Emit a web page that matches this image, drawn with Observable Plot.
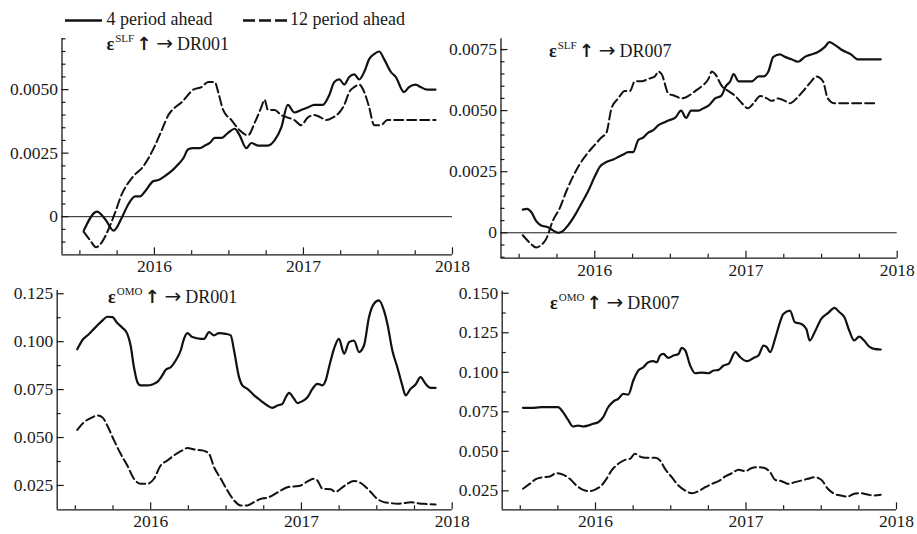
<!DOCTYPE html>
<html>
<head>
<meta charset="utf-8">
<script src="https://cdn.jsdelivr.net/npm/d3@7"></script>
<script src="https://cdn.jsdelivr.net/npm/@observablehq/plot@0.6"></script>
<style>
  body { margin: 0; background: #fff; }
  #chart { position: relative; width: 917px; height: 534px; font-family: "Liberation Serif", "Times New Roman", serif; color: #1a1a1a; }
  #chart svg { position: absolute; background: transparent; overflow: visible; }
</style>
</head>
<body>
<div id="chart"></div>
<script>
// Impulse responses of the interbank rates (DR001, DR007) to SLF and OMO shocks,
// at two horizons. Each series is a list of [decimal year, response] pairs.
const seriesNames = ["4 period ahead", "12 period ahead"];
const yearTicks = [2016, 2017, 2018];
const quarterTicks = [2015.5, 2015.75, 2016.25, 2016.5, 2016.75, 2017.25, 2017.5, 2017.75];

const slfDr001H4 = [[2015.526,-0.00055],[2015.615,0.0002],[2015.670,-0.0001],[2015.726,-0.00055],[2015.782,-0.00003],[2015.826,0.0005],[2015.871,0.0008],[2015.904,0.0008],[2015.938,0.001],[2015.993,0.0014],[2016.027,0.00144],[2016.071,0.0016],[2016.116,0.0018],[2016.160,0.00206],[2016.194,0.0023],[2016.227,0.00265],[2016.261,0.0027],[2016.305,0.0027],[2016.339,0.0028],[2016.372,0.0029],[2016.405,0.0031],[2016.450,0.0031],[2016.494,0.0033],[2016.539,0.00346],[2016.572,0.0032],[2016.617,0.0027],[2016.650,0.0029],[2016.695,0.0028],[2016.762,0.0028],[2016.806,0.003],[2016.851,0.0035],[2016.895,0.0044],[2016.940,0.0041],[2016.984,0.0042],[2017.029,0.0043],[2017.073,0.0044],[2017.129,0.0044],[2017.174,0.0048],[2017.207,0.0053],[2017.241,0.0054],[2017.274,0.0052],[2017.307,0.0055],[2017.341,0.0056],[2017.374,0.0054],[2017.408,0.0057],[2017.441,0.0062],[2017.474,0.0064],[2017.508,0.0065],[2017.541,0.0062],[2017.586,0.0057],[2017.619,0.0055],[2017.675,0.0049],[2017.708,0.0051],[2017.753,0.0052],[2017.786,0.0051],[2017.831,0.005],[2017.886,0.005]];
const slfDr001H12 = [[2015.526,-0.0006],[2015.570,-0.00094],[2015.608,-0.0012],[2015.648,-0.001],[2015.693,-0.00048],[2015.737,0.00017],[2015.782,0.0009],[2015.826,0.00134],[2015.871,0.00167],[2015.915,0.0019],[2015.960,0.0023],[2016.004,0.0028],[2016.049,0.0034],[2016.094,0.004],[2016.138,0.0043],[2016.183,0.0045],[2016.227,0.0048],[2016.261,0.005],[2016.316,0.0051],[2016.361,0.0053],[2016.405,0.0053],[2016.428,0.0049],[2016.461,0.0042],[2016.517,0.0038],[2016.572,0.0034],[2016.628,0.0032],[2016.673,0.0037],[2016.717,0.0043],[2016.739,0.0046],[2016.762,0.0042],[2016.806,0.0042],[2016.851,0.004],[2016.895,0.0039],[2016.940,0.0038],[2016.984,0.0036],[2017.029,0.0039],[2017.073,0.004],[2017.118,0.0039],[2017.151,0.0038],[2017.196,0.0039],[2017.241,0.0041],[2017.274,0.0044],[2017.307,0.0049],[2017.341,0.0051],[2017.374,0.0052],[2017.408,0.0049],[2017.441,0.0043],[2017.474,0.0036],[2017.519,0.0036],[2017.563,0.0038],[2017.653,0.0038],[2017.742,0.0038],[2017.886,0.0038]];

const slfDr007H4 = [[2015.524,0.00095],[2015.553,0.00098],[2015.580,0.00085],[2015.613,0.00048],[2015.646,0.0003],[2015.690,0.00023],[2015.723,0.0001],[2015.757,0],[2015.779,0.00003],[2015.823,0.0003],[2015.867,0.0007],[2015.912,0.0012],[2015.956,0.0017],[2016.000,0.0023],[2016.033,0.0027],[2016.077,0.0029],[2016.122,0.003],[2016.155,0.0031],[2016.188,0.0032],[2016.221,0.0033],[2016.254,0.0033],[2016.288,0.0038],[2016.321,0.0039],[2016.354,0.0041],[2016.387,0.0042],[2016.420,0.0044],[2016.454,0.0045],[2016.487,0.0046],[2016.531,0.0047],[2016.571,0.005],[2016.604,0.0047],[2016.637,0.005],[2016.686,0.005],[2016.719,0.0051],[2016.752,0.0052],[2016.796,0.0055],[2016.836,0.0056],[2016.867,0.006],[2016.896,0.0062],[2016.918,0.0065],[2016.951,0.0062],[2016.996,0.0062],[2017.039,0.0062],[2017.083,0.0064],[2017.116,0.0064],[2017.148,0.0066],[2017.181,0.0072],[2017.225,0.0073],[2017.258,0.0072],[2017.301,0.0071],[2017.345,0.007],[2017.389,0.0072],[2017.432,0.0073],[2017.476,0.0074],[2017.520,0.0076],[2017.552,0.0078],[2017.585,0.0077],[2017.629,0.0075],[2017.694,0.0073],[2017.738,0.0071],[2017.782,0.0071],[2017.891,0.0071]];
const slfDr007H12 = [[2015.524,-0.0001],[2015.569,-0.0004],[2015.613,-0.0006],[2015.646,-0.0005],[2015.679,-0.00025],[2015.723,0.0005],[2015.768,0.001],[2015.812,0.0017],[2015.856,0.0023],[2015.900,0.0028],[2015.945,0.0032],[2016.000,0.0036],[2016.044,0.0039],[2016.077,0.0041],[2016.111,0.0051],[2016.155,0.0055],[2016.199,0.0058],[2016.232,0.0058],[2016.265,0.0062],[2016.310,0.0062],[2016.354,0.0063],[2016.398,0.0064],[2016.420,0.0066],[2016.442,0.0065],[2016.487,0.0057],[2016.531,0.0056],[2016.575,0.0055],[2016.619,0.0056],[2016.664,0.0058],[2016.708,0.006],[2016.752,0.0063],[2016.774,0.0066],[2016.796,0.0065],[2016.841,0.006],[2016.885,0.0058],[2016.929,0.0056],[2016.973,0.0053],[2017.013,0.0051],[2017.050,0.0053],[2017.094,0.0056],[2017.138,0.0055],[2017.170,0.0054],[2017.214,0.0055],[2017.258,0.0054],[2017.290,0.0053],[2017.334,0.0055],[2017.378,0.0058],[2017.432,0.0062],[2017.465,0.0064],[2017.509,0.0062],[2017.541,0.0055],[2017.585,0.0053],[2017.629,0.0053],[2017.694,0.0053],[2017.760,0.0053],[2017.869,0.0053]];

const omoDr001H4 = [[2015.513,0.096],[2015.546,0.1007],[2015.591,0.104],[2015.635,0.1076],[2015.679,0.111],[2015.712,0.113],[2015.746,0.1128],[2015.779,0.1097],[2015.812,0.1073],[2015.845,0.1041],[2015.867,0.098],[2015.889,0.0867],[2015.912,0.0789],[2015.934,0.0772],[2015.978,0.0772],[2016.011,0.0777],[2016.044,0.079],[2016.077,0.0824],[2016.100,0.0853],[2016.133,0.0867],[2016.166,0.0902],[2016.199,0.0954],[2016.221,0.1015],[2016.243,0.1045],[2016.277,0.1024],[2016.332,0.1015],[2016.354,0.1015],[2016.387,0.105],[2016.420,0.1033],[2016.454,0.1045],[2016.498,0.1041],[2016.531,0.1033],[2016.553,0.0954],[2016.586,0.0815],[2016.608,0.0772],[2016.642,0.0754],[2016.686,0.072],[2016.730,0.0693],[2016.774,0.0667],[2016.808,0.0655],[2016.841,0.0667],[2016.874,0.0676],[2016.896,0.071],[2016.918,0.0733],[2016.951,0.0702],[2016.973,0.068],[2017.007,0.069],[2017.040,0.071],[2017.073,0.0754],[2017.106,0.078],[2017.139,0.0772],[2017.161,0.0798],[2017.183,0.0867],[2017.216,0.0963],[2017.249,0.1015],[2017.283,0.0937],[2017.316,0.0998],[2017.349,0.1006],[2017.382,0.0946],[2017.415,0.098],[2017.448,0.1128],[2017.481,0.1198],[2017.514,0.1215],[2017.547,0.1163],[2017.570,0.1094],[2017.603,0.0954],[2017.636,0.0867],[2017.669,0.0772],[2017.691,0.072],[2017.724,0.0754],[2017.757,0.0777],[2017.790,0.0815],[2017.823,0.078],[2017.857,0.0759],[2017.890,0.0759]];
const omoDr001H12 = [[2015.513,0.054],[2015.558,0.058],[2015.602,0.0601],[2015.646,0.0615],[2015.679,0.0606],[2015.712,0.0563],[2015.757,0.0485],[2015.801,0.0415],[2015.845,0.0354],[2015.889,0.0285],[2015.934,0.0259],[2015.978,0.0259],[2016.022,0.0285],[2016.066,0.0354],[2016.111,0.038],[2016.155,0.0407],[2016.210,0.0433],[2016.243,0.0445],[2016.299,0.0436],[2016.343,0.0433],[2016.387,0.0415],[2016.420,0.0346],[2016.465,0.0285],[2016.509,0.0224],[2016.553,0.0172],[2016.597,0.0146],[2016.642,0.0146],[2016.686,0.0163],[2016.730,0.018],[2016.774,0.0186],[2016.819,0.0203],[2016.863,0.0224],[2016.907,0.0241],[2016.951,0.0245],[2016.996,0.025],[2017.040,0.0271],[2017.084,0.0285],[2017.106,0.0276],[2017.139,0.0233],[2017.194,0.023],[2017.227,0.0216],[2017.260,0.0233],[2017.305,0.0259],[2017.349,0.0273],[2017.382,0.0267],[2017.415,0.025],[2017.459,0.0216],[2017.503,0.018],[2017.547,0.0163],[2017.592,0.0158],[2017.636,0.0154],[2017.680,0.0158],[2017.724,0.0163],[2017.768,0.0158],[2017.812,0.0154],[2017.890,0.0151]];

const omoDr007H4 = [[2015.518,0.0775],[2015.573,0.0775],[2015.640,0.0779],[2015.707,0.0779],[2015.751,0.0779],[2015.784,0.0748],[2015.818,0.0699],[2015.851,0.0657],[2015.884,0.0663],[2015.918,0.0657],[2015.951,0.0663],[2015.984,0.0674],[2016.018,0.0684],[2016.051,0.0716],[2016.084,0.0779],[2016.118,0.0815],[2016.151,0.0832],[2016.184,0.0863],[2016.218,0.0859],[2016.251,0.0948],[2016.284,0.1011],[2016.318,0.1032],[2016.351,0.1064],[2016.384,0.107],[2016.407,0.1064],[2016.429,0.1106],[2016.451,0.1116],[2016.484,0.1091],[2016.518,0.1106],[2016.551,0.1116],[2016.573,0.1154],[2016.596,0.1138],[2016.629,0.1043],[2016.662,0.0994],[2016.707,0.0998],[2016.751,0.0994],[2016.784,0.1011],[2016.818,0.1015],[2016.851,0.1043],[2016.884,0.1053],[2016.929,0.1127],[2016.962,0.1095],[2017.007,0.107],[2017.050,0.1091],[2017.083,0.1106],[2017.116,0.1169],[2017.138,0.1159],[2017.160,0.1127],[2017.193,0.1211],[2017.226,0.1317],[2017.248,0.1369],[2017.292,0.139],[2017.325,0.1317],[2017.368,0.1306],[2017.401,0.1274],[2017.423,0.1201],[2017.456,0.1253],[2017.500,0.1338],[2017.544,0.1374],[2017.588,0.1407],[2017.621,0.138],[2017.654,0.1348],[2017.686,0.1264],[2017.719,0.1201],[2017.752,0.1226],[2017.785,0.1201],[2017.818,0.1163],[2017.851,0.1148],[2017.895,0.1144]];
const omoDr007H12 = [[2015.518,0.0263],[2015.562,0.0294],[2015.607,0.0326],[2015.651,0.0336],[2015.696,0.0341],[2015.740,0.0362],[2015.784,0.0353],[2015.829,0.0326],[2015.873,0.0284],[2015.918,0.0256],[2015.962,0.0248],[2016.007,0.0263],[2016.040,0.0284],[2016.073,0.0326],[2016.107,0.0379],[2016.151,0.0421],[2016.196,0.0446],[2016.229,0.0452],[2016.262,0.0484],[2016.307,0.0463],[2016.351,0.0459],[2016.396,0.0459],[2016.429,0.0442],[2016.462,0.0389],[2016.507,0.0336],[2016.551,0.0284],[2016.596,0.0252],[2016.640,0.0235],[2016.684,0.0248],[2016.729,0.0273],[2016.773,0.0294],[2016.818,0.0311],[2016.862,0.0341],[2016.907,0.0362],[2016.951,0.0383],[2016.996,0.0374],[2017.039,0.0395],[2017.083,0.04],[2017.127,0.0393],[2017.160,0.0368],[2017.193,0.032],[2017.237,0.0311],[2017.281,0.0294],[2017.325,0.0305],[2017.368,0.0315],[2017.412,0.0326],[2017.456,0.0336],[2017.500,0.032],[2017.544,0.0263],[2017.588,0.0231],[2017.632,0.022],[2017.675,0.0214],[2017.719,0.0231],[2017.763,0.0235],[2017.807,0.0227],[2017.851,0.022],[2017.895,0.0225]];

const slfMajor = [0, 0.0025, 0.005];
const slfMajor007 = [0, 0.0025, 0.005, 0.0075];
const slfMinor = [-0.001, -0.0005, 0.0005, 0.001, 0.0015, 0.002, 0.003, 0.0035, 0.004, 0.0045, 0.0055, 0.006, 0.0065, 0.007, 0.0075];
const omoMajor = [0.025, 0.05, 0.075, 0.1, 0.125];
const omoMajor007 = [0.025, 0.05, 0.075, 0.1, 0.125, 0.15];
const omoMinor = [0.0375, 0.0625, 0.0875, 0.1125, 0.1375];

const ink = "#1a1a1a";
const font = "17.5px 'Liberation Serif', 'Times New Roman', serif";
const xStart = 2015.38;

function panel(o) {
  const innerW = o.width - o.ml - o.mr;
  const innerH = o.height - o.mt - o.mb;
  const inY = d => d >= o.yDomain[0] && d <= o.yDomain[1];
  const svg = Plot.plot({
    width: o.width, height: o.height,
    marginLeft: o.ml, marginRight: o.mr, marginTop: o.mt, marginBottom: o.mb,
    style: {font, color: ink, background: "transparent", overflow: "visible"},
    x: {type: "linear", domain: [xStart, 2018]},
    y: {domain: o.yDomain},
    marks: [
      o.zero ? Plot.ruleY([0], {stroke: ink, strokeWidth: 1}) : null,
      Plot.line(o.dashed, {x: d => d[0], y: d => d[1], stroke: "#111", strokeWidth: 2, strokeDasharray: "9,4", curve: "monotone-x"}),
      Plot.line(o.solid, {x: d => d[0], y: d => d[1], stroke: "#111", strokeWidth: 2.2, curve: "monotone-x"}),
      Plot.ruleX([xStart], {stroke: ink, strokeWidth: 1.3}),
      Plot.ruleY([o.yDomain[0]], {stroke: ink, strokeWidth: 1.3}),
      Plot.tickX(yearTicks, {x: d => d, insetTop: innerH - 7, stroke: ink, strokeWidth: 1.2}),
      Plot.tickX(quarterTicks, {x: d => d, insetTop: innerH - 4, stroke: ink, strokeWidth: 1.2}),
      Plot.tickY(o.yMajor, {y: d => d, insetRight: innerW - 7, stroke: ink, strokeWidth: 1.2}),
      Plot.tickY(o.yMinor.filter(inY), {y: d => d, insetRight: innerW - 4, stroke: ink, strokeWidth: 1.2}),
      Plot.axisX(yearTicks, {tickSize: 0, tickPadding: 5, tickFormat: d => `${d}`, fill: ink, label: null}),
      Plot.axisY(o.yMajor, {tickSize: 0, tickPadding: 4, tickFormat: o.fmt, fill: ink, label: null})
    ]
  });
  svg.style.left = o.left + "px";
  svg.style.top = o.top + "px";
  document.getElementById("chart").appendChild(svg);
}

const fmtSlf = d => d === 0 ? "0" : d.toFixed(4);
const fmtOmo = d => d.toFixed(3);

panel({left: 0, top: 28, width: 470, height: 256, ml: 61.5, mr: 18, mt: 10.3, mb: 29.7,
  yDomain: [-0.0015, 0.007], yMajor: slfMajor, yMinor: slfMinor, fmt: fmtSlf, zero: true,
  solid: slfDr001H4, dashed: slfDr001H12});
panel({left: 450, top: 28, width: 467, height: 256, ml: 50.5, mr: 20.3, mt: 10.3, mb: 26.3,
  yDomain: [-0.00104, 0.00794], yMajor: slfMajor007, yMinor: slfMinor, fmt: fmtSlf, zero: true,
  solid: slfDr007H4, dashed: slfDr007H12});
panel({left: 0, top: 280, width: 470, height: 254, ml: 56.7, mr: 18.3, mt: 10, mb: 24.7,
  yDomain: [0.0123, 0.1267], yMajor: omoMajor, yMinor: omoMinor, fmt: fmtOmo, zero: false,
  solid: omoDr001H4, dashed: omoDr001H12});
panel({left: 450, top: 280, width: 467, height: 254, ml: 51.7, mr: 21, mt: 10.7, mb: 24.7,
  yDomain: [0.013, 0.1513], yMajor: omoMajor007, yMinor: omoMinor, fmt: fmtOmo, zero: false,
  solid: omoDr007H4, dashed: omoDr007H12});

// Legend and panel titles on a shared overlay
const overlay = d3.select("#chart").append("svg")
  .attr("width", 917).attr("height", 534)
  .style("left", "0px").style("top", "0px")
  .attr("font-family", "'Liberation Serif', 'Times New Roman', serif")
  .attr("fill", ink);

const legend = overlay.append("g").attr("font-size", 18);
legend.append("line").attr("x1", 65).attr("x2", 102).attr("y1", 20.5).attr("y2", 20.5)
  .attr("stroke", "#111").attr("stroke-width", 2.6);
legend.append("text").attr("x", 106.5).attr("y", 25).text(seriesNames[0]);
legend.append("line").attr("x1", 243).attr("x2", 287).attr("y1", 20.5).attr("y2", 20.5)
  .attr("stroke", "#111").attr("stroke-width", 2.6).attr("stroke-dasharray", "12,4");
legend.append("text").attr("x", 290).attr("y", 25).text(seriesNames[1]);

const arrowFont = "'DejaVu Sans', sans-serif";
function title(x, y, shock, target) {
  const t = overlay.append("text").attr("x", x).attr("y", y).attr("font-size", 18);
  t.append("tspan").attr("font-weight", "bold").text("ε");
  t.append("tspan").attr("font-size", 11).attr("dy", -8).attr("dx", 1).text(shock);
  t.append("tspan").attr("dy", 8).attr("dx", 2).attr("font-family", arrowFont)
    .attr("font-weight", "bold").attr("font-size", 18).text("↑");
  t.append("tspan").attr("dx", 5).attr("font-family", arrowFont).attr("font-size", 20).text("→");
  t.append("tspan").attr("dx", 4).text(target);
}
title(106.5, 50, "SLF", "DR001");
title(549, 57, "SLF", "DR007");
title(108, 303, "OMO", "DR001");
title(550, 308.5, "OMO", "DR007");
</script>
</body>
</html>
